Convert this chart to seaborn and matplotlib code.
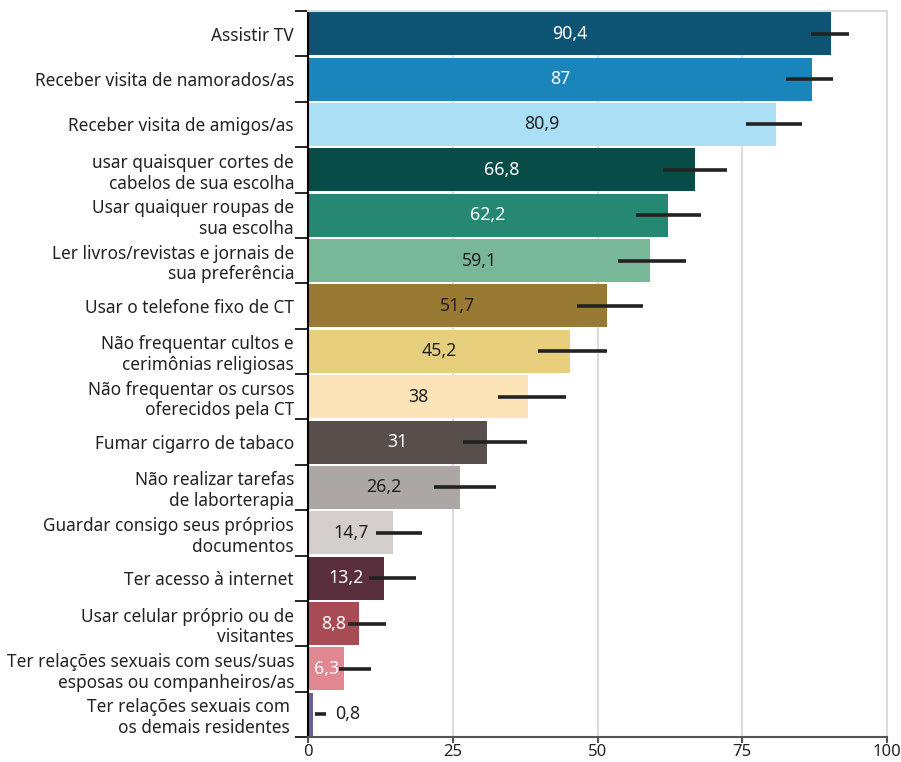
import matplotlib
matplotlib.use("Agg")
import matplotlib.pyplot as plt
import seaborn as sns
import pandas as pd
import numpy as np

categories = [
    "Assistir TV",
    "Receber visita de namorados/as",
    "Receber visita de amigos/as",
    "usar quaisquer cortes de\ncabelos de sua escolha",
    "Usar quaiquer roupas de\nsua escolha",
    "Ler livros/revistas e jornais de\nsua preferência",
    "Usar o telefone fixo de CT",
    "Não frequentar cultos e\ncerimônias religiosas",
    "Não frequentar os cursos\noferecidos pela CT",
    "Fumar cigarro de tabaco",
    "Não realizar tarefas\nde laborterapia",
    "Guardar consigo seus próprios\ndocumentos",
    "Ter acesso à internet",
    "Usar celular próprio ou de\nvisitantes",
    "Ter relações sexuais com seus/suas\nesposas ou companheiros/as",
    "Ter relações sexuais com \nos demais residentes ",
]
values = [90.4, 87, 80.9, 66.8, 62.2, 59.1, 51.7, 45.2, 38, 31, 26.2, 14.7, 13.2, 8.8, 6.3, 0.8]
value_labels = ["90,4", "87", "80,9", "66,8", "62,2", "59,1", "51,7", "45,2", "38", "31",
                "26,2", "14,7", "13,2", "8,8", "6,3", "0,8"]
err_low = [86.8, 82.6, 75.6, 61.3, 56.6, 53.6, 46.4, 39.8, 32.9, 26.8, 21.8, 11.8, 10.6, 6.9, 5.3, 1.2]
err_high = [93.4, 90.7, 85.4, 72.4, 67.9, 65.3, 57.9, 51.6, 44.6, 37.9, 32.4, 19.7, 18.7, 13.5, 10.8, 3.1]
x_ticks = [0, 25, 50, 75, 100]

bar_colors = ["#0d5474", "#1a85bb", "#abdff5", "#084c48", "#268873", "#78b797",
              "#997a32", "#e8cf7e", "#fde3b8", "#584e4b", "#aca6a5", "#d4cfcc",
              "#592e3d", "#a84b55", "#e08791", "#6a5f96"]
text_colors = ["white", "white", "#222222", "white", "white", "#222222",
               "#222222", "#222222", "#222222", "white", "#222222", "#222222",
               "white", "white", "white", "#222222"]

sns.set_style("white")
plt.rcParams["font.family"] = ["Noto Sans", "DejaVu Sans"]

df = pd.DataFrame({"category": categories, "value": values})

fig = plt.figure(figsize=(9.01, 7.62), dpi=100)
ax = fig.add_axes([308 / 901, 1 - 737 / 762, (887 - 308) / 901, (737 - 11) / 762])

sns.barplot(data=df, x="value", y="category", hue="category", palette=bar_colors,
            dodge=False, legend=False, width=0.95, saturation=1, linewidth=0, ax=ax,
            errorbar=None)

pos = np.arange(len(categories))
ax.hlines(pos, err_low, err_high, color="#222222", lw=2.6, zorder=4)

for i, (v, lab) in enumerate(zip(values, value_labels)):
    if v < 3:
        ax.text(err_high[i] + 1.5, i, lab, ha="left", va="center", fontsize=12.8,
                color=text_colors[i], zorder=5)
    else:
        ax.text(v / 2, i, lab, ha="center", va="center", fontsize=12.8,
                color=text_colors[i], zorder=5)

ax.set_xlim(0, 100)
ax.set_ylim(len(categories) - 0.5, -0.5)
ax.set_xticks(x_ticks)
ax.set_xticklabels([str(t) for t in x_ticks], fontsize=12, color="#222222")
ax.set_xlabel("")
ax.set_ylabel("")

ax.set_yticks(np.arange(-0.5, len(categories), 1))
ax.set_yticklabels([""] * (len(categories) + 1))
ax.set_yticks(pos, minor=True)
ax.set_yticklabels(categories, minor=True, fontsize=12.4, color="#222222")
ax.tick_params(axis="y", which="major", length=9.4, width=1.2, color="black", left=True)
ax.tick_params(axis="y", which="minor", length=0, pad=10)
ax.tick_params(axis="x", which="major", length=4, width=1.5, color="#555555", bottom=True, pad=1)

ax.xaxis.grid(True, color="#dcdcdc", lw=1.5)
ax.yaxis.grid(False)
ax.set_axisbelow(True)

for s in ["top", "right"]:
    ax.spines[s].set_color("#dcdcdc")
    ax.spines[s].set_linewidth(1.5)
ax.spines["left"].set_color("black")
ax.spines["left"].set_linewidth(1.5)
ax.spines["bottom"].set_color("#555555")
ax.spines["bottom"].set_linewidth(1.5)

fig.savefig("out.png", dpi=100)
